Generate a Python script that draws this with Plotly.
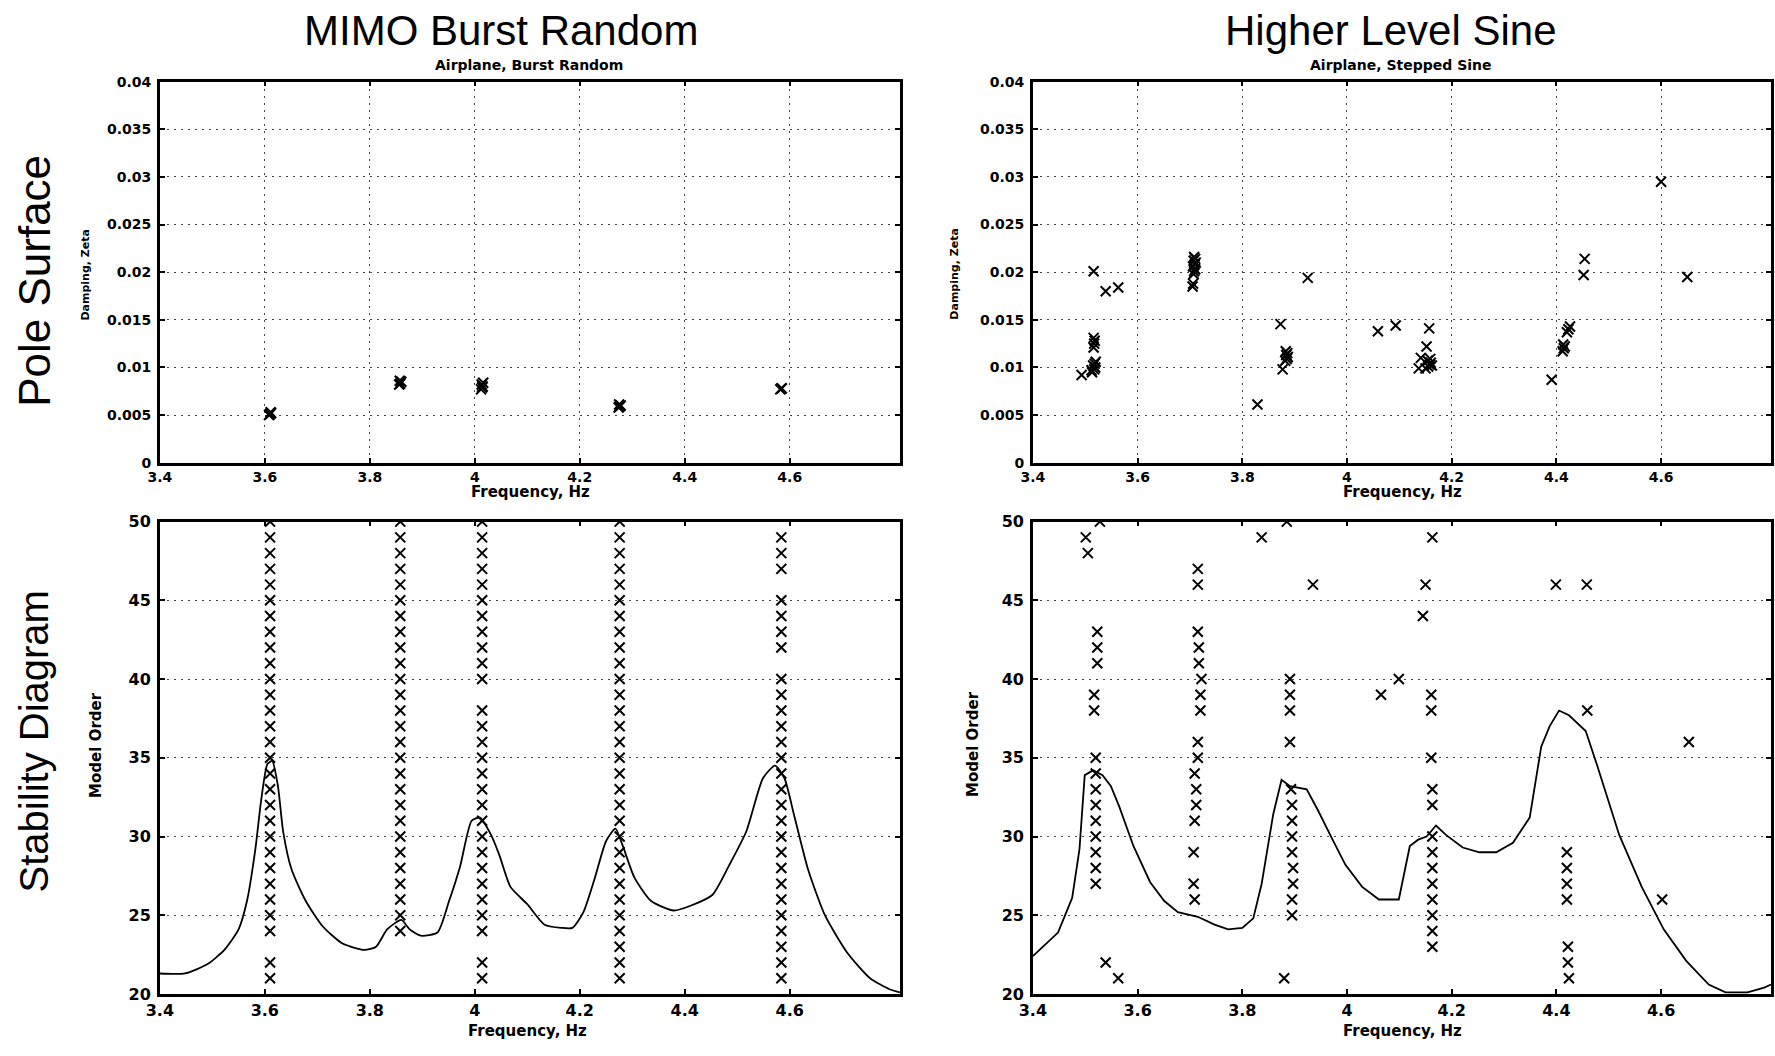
import plotly.graph_objects as go
from plotly.subplots import make_subplots

# ---- pole surface, burst random (freq Hz, damping zeta)
br_freq = [3.608, 3.610, 3.612, 3.611,
           3.856, 3.858, 3.860, 3.857,
           4.012, 4.014, 4.015, 4.013, 4.016,
           4.274, 4.276, 4.278, 4.275,
           4.582, 4.584, 4.585]
br_zeta = [0.0050, 0.0051, 0.0052, 0.0053,
           0.0082, 0.0083, 0.0085, 0.0086,
           0.0077, 0.0079, 0.0080, 0.0082, 0.0084,
           0.0058, 0.0059, 0.0060, 0.0061,
           0.0077, 0.0078, 0.0078]

# ---- pole surface, stepped sine
ss_freq = [3.493, 3.512, 3.513, 3.517, 3.519, 3.515, 3.518, 3.520,
           3.516, 3.517, 3.518, 3.516, 3.516, 3.539, 3.563,
           3.705, 3.706, 3.707, 3.708, 3.710, 3.706, 3.709, 3.711, 3.707, 3.710, 3.708,
           3.829, 3.873, 3.877, 3.882, 3.885, 3.887, 3.884, 3.886, 3.883, 3.925,
           4.059, 4.093, 4.157, 4.152, 4.141, 4.137,
           4.150, 4.155, 4.158, 4.160, 4.154, 4.159, 4.162,
           4.391, 4.412, 4.414, 4.416, 4.413, 4.420, 4.423, 4.426,
           4.454, 4.452, 4.600, 4.650]
ss_zeta = [0.0092, 0.0097, 0.0095, 0.0098, 0.0100, 0.0102, 0.0104, 0.0106,
           0.0121, 0.0125, 0.0128, 0.0131, 0.0201, 0.0180, 0.0184,
           0.0185, 0.0188, 0.0198, 0.0201, 0.0203, 0.0206, 0.0208, 0.0210, 0.0212, 0.0214, 0.0216,
           0.0061, 0.01455, 0.0098, 0.0107, 0.0109, 0.0111, 0.0113, 0.0115, 0.0117, 0.0194,
           0.0138, 0.0144, 0.0141, 0.0122, 0.0110, 0.0099,
           0.0099, 0.0101, 0.0103, 0.0105, 0.0107, 0.0109, 0.0102,
           0.0087, 0.0117, 0.0120, 0.0122, 0.0124, 0.0137, 0.0140, 0.0143,
           0.0214, 0.0197, 0.0295, 0.0195]

# ---- stability diagram, burst random: stable pole columns
col_freq = [3.610, 3.858, 4.014, 4.276, 4.584]
col_orders = [
    [21, 22, 24, 25, 26, 27, 28, 29, 30, 31, 32, 33, 34, 35, 36, 37, 38, 39, 40,
     41, 42, 43, 44, 45, 46, 47, 48, 49, 50],
    [24, 25, 26, 27, 28, 29, 30, 31, 32, 33, 34, 35, 36, 37, 38, 39, 40,
     41, 42, 43, 44, 45, 46, 47, 48, 49, 50],
    [21, 22, 24, 25, 26, 27, 28, 29, 30, 31, 32, 33, 34, 35, 36, 37, 38,
     40, 41, 42, 43, 44, 45, 46, 47, 48, 49, 50],
    [21, 22, 23, 24, 25, 26, 27, 28, 29, 30, 31, 32, 33, 34, 35, 36, 37, 38, 39, 40,
     41, 42, 43, 44, 45, 46, 47, 48, 49, 50],
    [21, 22, 23, 24, 25, 26, 27, 28, 29, 30, 31, 32, 33, 34, 35, 36, 37, 38, 39, 40,
     42, 43, 44, 45, 47, 48, 49],
]
# summed FRF overlay (scaled to model-order axis)
br_curve_f = [3.400, 3.448, 3.491, 3.523, 3.550, 3.566, 3.582, 3.593, 3.605, 3.614,
              3.625, 3.635, 3.651, 3.678, 3.710, 3.748, 3.790, 3.812, 3.833, 3.860,
              3.876, 3.897, 3.929, 3.951, 3.972, 3.994, 4.010, 4.031, 4.047, 4.068,
              4.100, 4.133, 4.165, 4.186, 4.207, 4.229, 4.250, 4.268, 4.282, 4.304,
              4.336, 4.379, 4.411, 4.453, 4.485, 4.517, 4.549, 4.572, 4.590, 4.608,
              4.635, 4.667, 4.710, 4.753, 4.790, 4.810]
br_curve_v = [21.3, 21.3, 21.9, 22.8, 24.1, 25.9, 29.2, 32.3, 34.6, 34.8,
              33.2, 30.3, 27.9, 25.9, 24.3, 23.2, 22.8, 23.0, 24.1, 24.7,
              24.1, 23.7, 23.9, 25.9, 28.1, 31.0, 31.2, 30.1, 28.8, 26.8,
              25.7, 24.4, 24.2, 24.2, 25.2, 27.4, 29.7, 30.5, 29.4, 27.4,
              25.9, 25.3, 25.6, 26.3, 28.2, 30.3, 33.7, 34.5, 33.7, 31.4,
              27.9, 25.0, 22.6, 21.0, 20.3, 20.1]

# ---- stability diagram, stepped sine
ss_stab_f = [3.501, 3.505, 3.528,
             3.523, 3.523, 3.523, 3.517, 3.517, 3.520, 3.520, 3.520, 3.520, 3.520,
             3.520, 3.520, 3.520, 3.520, 3.539, 3.563,
             3.715, 3.715, 3.715, 3.717, 3.717, 3.722, 3.720, 3.720, 3.715, 3.715,
             3.709, 3.712, 3.712, 3.709, 3.707, 3.707, 3.709,
             3.837, 3.885, 3.935,
             3.891, 3.891, 3.891, 3.891, 3.893, 3.895, 3.895, 3.895, 3.895, 3.897,
             3.897, 3.895, 3.895, 3.880,
             4.065, 4.099, 4.163, 4.150, 4.145,
             4.161, 4.161, 4.161, 4.163, 4.163, 4.163, 4.163, 4.163, 4.163, 4.163,
             4.163, 4.163, 4.163,
             4.399, 4.458, 4.459,
             4.420, 4.420, 4.420, 4.420, 4.422, 4.422, 4.424,
             4.653, 4.602]
ss_stab_o = [49, 48, 50,
             43, 42, 41, 39, 38, 35, 34, 33, 32, 31,
             30, 29, 28, 27, 22, 21,
             47, 46, 43, 42, 41, 40, 39, 38, 36, 35,
             34, 33, 32, 31, 29, 27, 26,
             49, 50, 46,
             40, 39, 38, 36, 33, 32, 31, 30, 29, 28,
             27, 26, 25, 21,
             39, 40, 49, 46, 44,
             39, 38, 35, 33, 32, 30, 29, 28, 27, 26,
             25, 24, 23,
             46, 46, 38,
             29, 28, 27, 26, 23, 22, 21,
             36, 26]
ss_curve_f = [3.400, 3.448, 3.475, 3.489, 3.499, 3.515, 3.533, 3.549, 3.565, 3.592,
              3.624, 3.651, 3.677, 3.715, 3.747, 3.773, 3.800, 3.821, 3.837, 3.859,
              3.875, 3.891, 3.923, 3.944, 3.971, 3.997, 4.029, 4.061, 4.099, 4.120,
              4.136, 4.152, 4.170, 4.189, 4.221, 4.253, 4.285, 4.317, 4.349, 4.371,
              4.387, 4.405, 4.424, 4.456, 4.477, 4.520, 4.563, 4.605, 4.648, 4.691,
              4.723, 4.765, 4.797, 4.810]
ss_curve_v = [22.4, 23.9, 26.1, 29.2, 33.9, 34.2, 33.9, 33.2, 31.9, 29.4,
              27.1, 25.9, 25.2, 24.9, 24.4, 24.1, 24.2, 24.8, 27.0, 31.4,
              33.6, 33.2, 33.0, 31.7, 29.9, 28.2, 26.8, 26.0, 26.0, 29.4,
              29.8, 30.0, 30.7, 30.1, 29.3, 29.0, 29.0, 29.6, 31.2, 35.7,
              37.0, 38.0, 37.7, 36.7, 34.6, 30.1, 26.8, 24.1, 22.1, 20.6,
              20.1, 20.1, 20.4, 20.6]

f_ticks = [3.4, 3.6, 3.8, 4.0, 4.2, 4.4, 4.6]
f_labels = ["3.4", "3.6", "3.8", "4", "4.2", "4.4", "4.6"]
z_ticks = [0, 0.005, 0.01, 0.015, 0.02, 0.025, 0.03, 0.035, 0.04]
z_labels = ["0", "0.005", "0.01", "0.015", "0.02", "0.025", "0.03", "0.035", "0.04"]
o_ticks = [20, 25, 30, 35, 40, 45, 50]

stab_f = []
stab_o = []
for f, orders in zip(col_freq, col_orders):
    stab_f += [f] * len(orders)
    stab_o += orders

fig = make_subplots(rows=2, cols=2)

xmark = dict(symbol="x-thin", size=10, color="black", line=dict(color="black", width=2))

fig.add_trace(go.Scatter(x=br_freq, y=br_zeta, mode="markers", marker=xmark), row=1, col=1)
fig.add_trace(go.Scatter(x=ss_freq, y=ss_zeta, mode="markers", marker=xmark), row=1, col=2)
fig.add_trace(go.Scatter(x=br_curve_f, y=br_curve_v, mode="lines",
                         line=dict(color="black", width=1.8, shape="spline", smoothing=0.6)),
              row=2, col=1)
fig.add_trace(go.Scatter(x=stab_f, y=stab_o, mode="markers", marker=xmark), row=2, col=1)
fig.add_trace(go.Scatter(x=ss_curve_f, y=ss_curve_v, mode="lines",
                         line=dict(color="black", width=1.8)), row=2, col=2)
fig.add_trace(go.Scatter(x=ss_stab_f, y=ss_stab_o, mode="markers", marker=xmark), row=2, col=2)

W, H = 1775, 1056
xdom_l = [147 / W, 893 / W]
xdom_r = [1027 / W, 1771 / W]
ydom_t = [1 - 462 / H, 1 - 74 / H]
ydom_b = [1 - 1003 / H, 1 - 522 / H]

tickfont_top = dict(family="DejaVu Sans", size=14, color="black", weight="bold")
tickfont_bot = dict(family="DejaVu Sans", size=16, color="black", weight="bold")

common = dict(showline=True, linecolor="black", linewidth=2.5, mirror="ticks",
              ticks="inside", ticklen=5, tickcolor="black", tickwidth=1.5,
              zeroline=False, gridcolor="#444", griddash="2px,5px", gridwidth=1)

for ax, dom in [("xaxis", xdom_l), ("xaxis2", xdom_r), ("xaxis3", xdom_l), ("xaxis4", xdom_r)]:
    top = ax in ("xaxis", "xaxis2")
    fig.layout[ax].update(domain=dom, range=[3.4, 4.81], tickvals=f_ticks, ticktext=f_labels,
                          showgrid=top, tickfont=tickfont_top if top else tickfont_bot,
                          ticklabelstandoff=0, **common)
for ax in ("yaxis", "yaxis2"):
    fig.layout[ax].update(domain=ydom_t, range=[0, 0.04], tickvals=z_ticks, ticktext=z_labels,
                          showgrid=True, tickfont=tickfont_top, ticklabelstandoff=3, **common)
for ax in ("yaxis3", "yaxis4"):
    fig.layout[ax].update(domain=ydom_b, range=[20, 50], tickvals=o_ticks,
                          showgrid=True, tickfont=tickfont_bot, ticklabelstandoff=3, **common)

ann = []
big = dict(family="Liberation Sans, Arial", size=42, color="black")
small = dict(family="DejaVu Sans", size=15, color="black", weight="bold")


def label(text, x, y, font, angle=0):
    ann.append(dict(text=text, x=x / W, y=1 - y / H, xref="paper", yref="paper",
                    showarrow=False, font=font, textangle=angle,
                    xanchor="center", yanchor="middle"))


label("MIMO Burst Random", 491, 22, big)
label("Higher Level Sine", 1388, 22, big)
label("Pole Surface", 20, 277, dict(big, size=44), -90)
label("Stability Diagram", 20, 746, dict(big, size=40), -90)
label("Airplane, Burst Random", 519, 57, dict(small, size=14))
label("Airplane, Stepped Sine", 1398, 57, dict(small, size=14))
label("Frequency, Hz", 521, 492, small)
label("Frequency, Hz", 1400, 492, small)
label("Frequency, Hz", 518, 1041, small)
label("Frequency, Hz", 1400, 1041, small)
label("Damping, Zeta", 72, 270, dict(small, size=11), -90)
label("Damping, Zeta", 948, 270, dict(small, size=11), -90)
label("Model Order", 82, 749, small, -90)
label("Model Order", 966, 748, small, -90)

fig.update_layout(width=W, height=H, autosize=False, showlegend=False,
                  margin=dict(l=0, r=0, t=0, b=0),
                  paper_bgcolor="white", plot_bgcolor="white",
                  annotations=ann)

# drop the browser's default page margin so the figure sits at the window corner
fig.write_html("out.html", config={"displayModeBar": False},
               post_script="document.body.style.margin='0px';")
